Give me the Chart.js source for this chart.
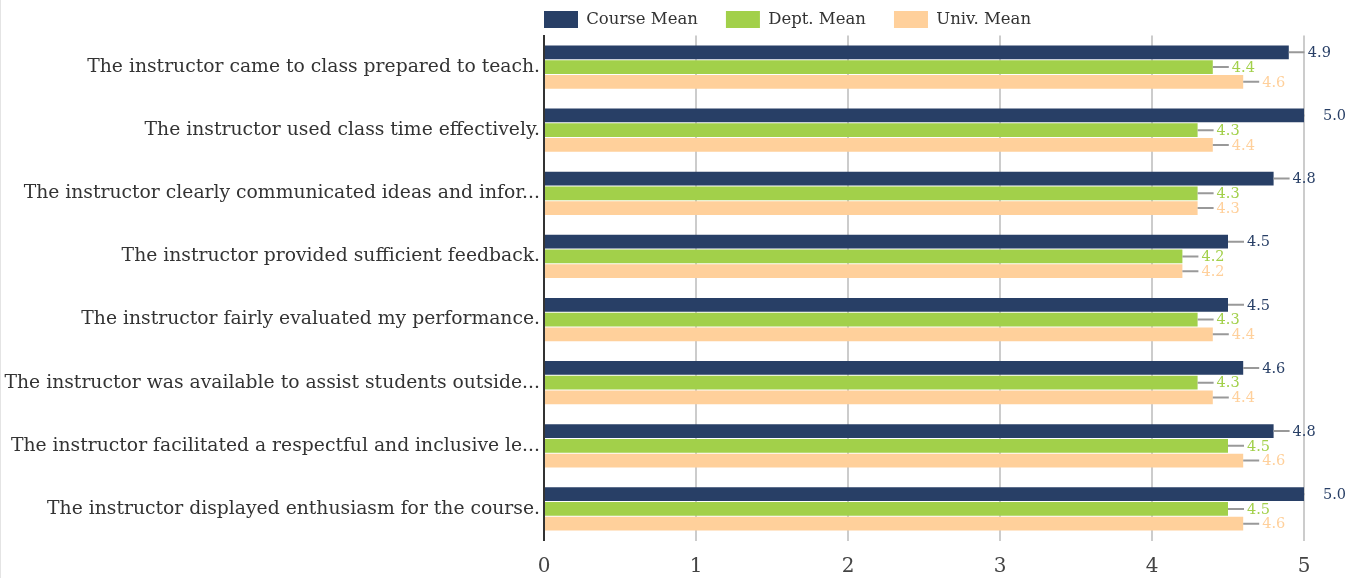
<!DOCTYPE html>
<html><head><meta charset="utf-8">
<script src="https://cdn.jsdelivr.net/npm/chart.js@4/dist/chart.umd.min.js"></script>
<style>
html,body{margin:0;padding:0;background:#fff;}
#wrap{width:1354px;height:578px;position:relative;box-sizing:border-box;border-left:1px solid #e4e4e4;}
</style></head>
<body><div id="wrap"><canvas id="c" width="1353" height="578"></canvas></div>
<script>
const categories = [
  "The instructor came to class prepared to teach.",
  "The instructor used class time effectively.",
  "The instructor clearly communicated ideas and infor...",
  "The instructor provided sufficient feedback.",
  "The instructor fairly evaluated my performance.",
  "The instructor was available to assist students outside...",
  "The instructor facilitated a respectful and inclusive le...",
  "The instructor displayed enthusiasm for the course."
];
const courseMean = [4.9, 5.0, 4.8, 4.5, 4.5, 4.6, 4.8, 5.0];
const deptMean   = [4.4, 4.3, 4.3, 4.2, 4.3, 4.3, 4.5, 4.5];
const univMean   = [4.6, 4.4, 4.3, 4.2, 4.4, 4.4, 4.6, 4.6];
const xTicks = [0, 1, 2, 3, 4, 5];

const FONT = "'DejaVu Serif', serif";
const colors = ['#283f66', '#a2d04a', '#ffd09b'];
const LEGEND_PAD = 28;

const labelPlugin = {
  id: 'leaderLabels',
  afterDatasetsDraw(chart) {
    const ctx = chart.ctx, area = chart.chartArea;
    chart.data.datasets.forEach((ds, di) => {
      const meta = chart.getDatasetMeta(di);
      meta.data.forEach((el, i) => {
        const x = el.x, y = el.y;
        ctx.save();
        ctx.beginPath();
        ctx.rect(area.left, area.top, area.right - area.left + 0.5, area.bottom - area.top);
        ctx.clip();
        ctx.strokeStyle = '#999';
        ctx.lineWidth = 2;
        ctx.beginPath();
        ctx.moveTo(x, y);
        ctx.lineTo(x + 16, y);
        ctx.stroke();
        ctx.restore();
        ctx.save();
        ctx.fillStyle = ds.backgroundColor;
        ctx.font = "14.5px " + FONT;
        ctx.textAlign = 'left';
        ctx.textBaseline = 'middle';
        ctx.fillText(ds.data[i].toFixed(1), x + 19, y + 1);
        ctx.restore();
      });
    });
  }
};

const legendPlacer = {
  id: 'legendPlacer',
  beforeLayout(chart) {
    const lg = chart.legend;
    if (lg && !lg._wrapped) {
      const f = lg.fit.bind(lg);
      lg.fit = function () { f(); this.height = 35.5; };
      lg._wrapped = true;
    }
  },
  afterLayout(chart) {
    const lg = chart.legend;
    if (lg) {
      lg.left = chart.chartArea.left - LEGEND_PAD;
      lg.top = 11 - LEGEND_PAD;
    }
  }
};

new Chart(document.getElementById('c'), {
  type: 'bar',
  data: {
    labels: categories,
    datasets: [
      {label: 'Course Mean', data: courseMean, backgroundColor: colors[0]},
      {label: 'Dept. Mean', data: deptMean, backgroundColor: colors[1]},
      {label: 'Univ. Mean', data: univMean, backgroundColor: colors[2]}
    ]
  },
  options: {
    indexAxis: 'y',
    responsive: false,
    animation: false,
    categoryPercentage: 0.7,
    barPercentage: 0.93,
    layout: {padding: {left: 0, right: 50, top: 0, bottom: 0}},
    plugins: {
      legend: {
        position: 'top',
        align: 'start',
        fullSize: false,
        labels: {
          boxWidth: 34, boxHeight: 17, padding: LEGEND_PAD,
          color: '#333',
          font: {family: FONT, size: 16.5}
        }
      },
      tooltip: {enabled: false}
    },
    scales: {
      x: {
        min: 0, max: 5,
        afterBuildTicks(s) { s.ticks = xTicks.map(v => ({value: v})); },
        afterFit(s) { s.height = 37.5; },
        grid: {color: '#cccccc', lineWidth: 2, drawTicks: false},
        border: {display: false},
        ticks: {color: '#444', padding: 14, font: {family: FONT, size: 20}}
      },
      y: {
        afterFit(s) { s.width = 543; },
        grid: {display: false, drawTicks: false},
        border: {display: true, color: '#333', width: 2},
        ticks: {color: '#333', padding: 4, font: {family: FONT, size: 18.75}}
      }
    }
  },
  plugins: [labelPlugin, legendPlacer]
});
</script></body></html>
